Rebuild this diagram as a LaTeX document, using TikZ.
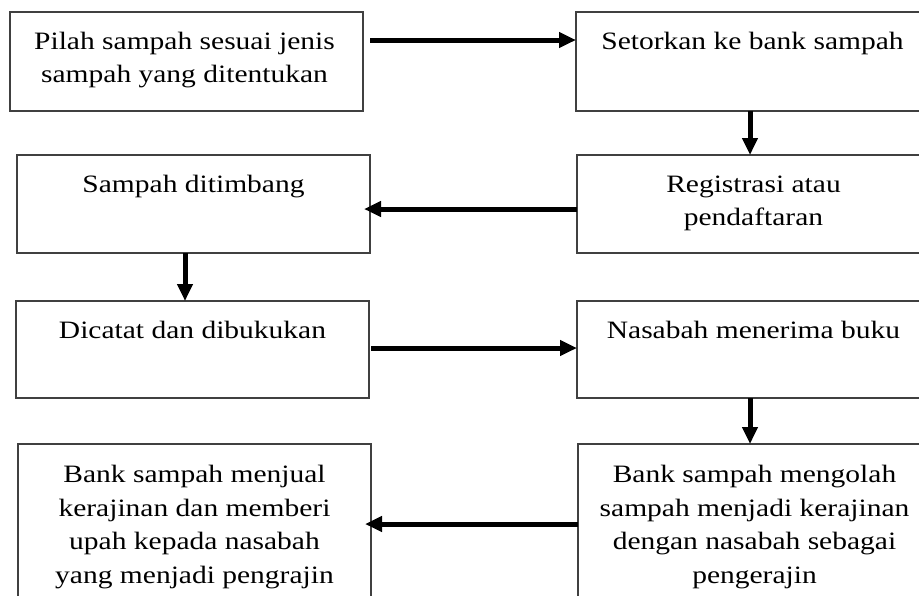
\documentclass[tikz,border=0pt]{standalone}
\usepackage{fontspec}
\setmainfont{Liberation Serif}[FakeStretch=1.18]
\usetikzlibrary{arrows.meta,calc}
\tikzset{
  box/.style={draw=black!75, line width=1.2pt, rectangle, minimum width=353pt, anchor=north west, inner sep=0pt, outer sep=0pt},
  txt/.style={anchor=north, align=center, inner sep=0pt, font=\fontsize{25}{33.5}\selectfont},
  arr/.style={line width=5pt, -{Triangle[length=17pt,width=15pt]}}
}
\begin{document}
\begin{tikzpicture}[x=1pt,y=-1pt]
\useasboundingbox (0,0) rectangle (919,595);
\clip (0,0) rectangle (919,595);
\fill[white] (0,0) rectangle (919,595);
% boxes
\node[box, minimum height=99pt] (b1) at (10,12) {};
\node[box, minimum height=99pt] (b2) at (576,12) {};
\node[box, minimum height=98pt] (b3) at (577,155) {};
\node[box, minimum height=98pt] (b4) at (17,155) {};
\node[box, minimum height=97pt] (b5) at (16,301) {};
\node[box, minimum height=97pt] (b6) at (577,301) {};
\node[box, minimum height=200pt] (b7) at (578,444) {};
\node[box, minimum height=200pt] (b8) at (18,444) {};
% texts
\node[txt] (t1) at ($(b1.north)+(-2,13.5)$) {\strut Pilah sampah sesuai jenis\\\strut sampah yang ditentukan};
\node[txt] (t2) at ($(b2.north)+(0,13.5)$) {\strut Setorkan ke bank sampah};
\node[txt] (t3) at ($(b3.north)+(0,13.5)$) {\strut Registrasi atau\\\strut pendaftaran};
\node[txt] (t4) at ($(b4.north)+(0,13.5)$) {\strut Sampah ditimbang};
\node[txt] (t5) at ($(b5.north)+(0,13.5)$) {\strut Dicatat dan dibukukan};
\node[txt] (t6) at ($(b6.north)+(0,13.5)$) {\strut Nasabah menerima buku};
\node[txt] (t7) at ($(b7.north)+(0,15)$) {\strut Bank sampah mengolah\\\strut sampah menjadi kerajinan\\\strut dengan nasabah sebagai\\\strut pengerajin};
\node[txt] (t8) at ($(b8.north)+(0,15)$) {\strut Bank sampah menjual\\\strut kerajinan dan memberi\\\strut upah kepada nasabah\\\strut yang menjadi pengrajin};
% arrows
\draw[arr] ($(b1.north east)+(7,28)$) -- ($(b2.north west)+(0,28)$);
\draw[arr] ($(b2.south west)+(174,0)$) -- ($(b3.north west)+(173,0)$);
\draw[arr] ($(b3.north west)+(0,54)$) -- ($(b4.north east)+(-6,54)$);
\draw[arr] ($(b4.south west)+(168,0)$) -- ($(b5.north west)+(169,0)$);
\draw[arr] ($(b5.north east)+(2,47)$) -- ($(b6.north west)+(0,47)$);
\draw[arr] ($(b6.south west)+(173,0)$) -- ($(b7.north west)+(172,0)$);
\draw[arr] ($(b7.north west)+(0,80)$) -- ($(b8.north east)+(-6,80)$);
\end{tikzpicture}
\end{document}
